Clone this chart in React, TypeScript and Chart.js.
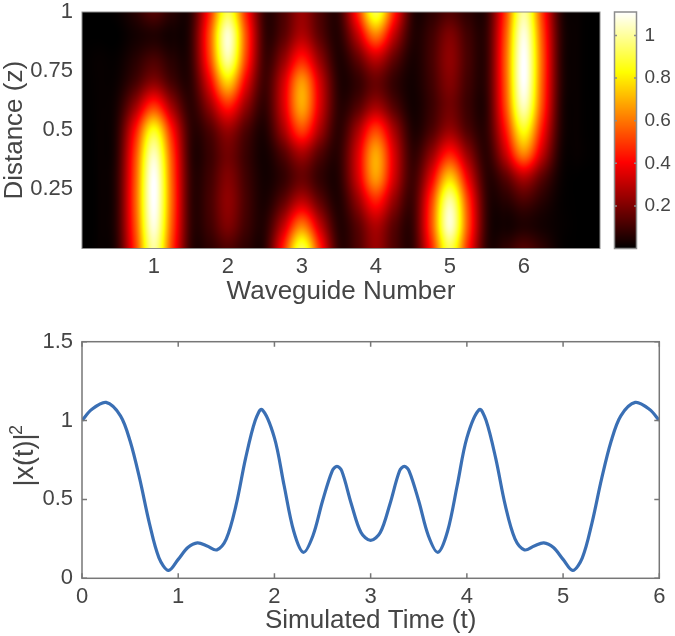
import React, { useEffect, useRef } from "react";
import { Chart, registerables } from "chart.js";

Chart.register(...registerables);

const FONT = "'Liberation Sans', Arial, sans-serif";
const TEXT = "#454545";
const FRAME = "#777777";

// Upper panel: intensity read at waveguide positions (columns) and distances (rows)
const heatX = [0, 0.25, 0.5, 0.75, 1, 1.25, 1.5, 1.75, 2, 2.25, 2.5, 2.75, 3, 3.25, 3.5, 3.75, 4, 4.25, 4.5, 4.75, 5, 5.25, 5.5, 5.75, 6, 6.25, 6.5, 6.75, 7];
const heatZ = [0, 0.1, 0.2, 0.3, 0.4, 0.5, 0.6, 0.7, 0.8, 0.9, 1];
const row00 = [0, .01, .07, .5, 1.0, .5, .08, .07, .125, .07, .07, .46, .91, .46, .08, .12, .24, .12, .08, .46, .91, .46, .07, .07, .125, .07, .01, 0, 0];
const row10 = [0, .01, .08, .54, 1.075, .54, .09, .10, .2, .10, .06, .3, .6, .3, .06, .14, .28, .14, .09, .53, 1.06, .53, .08, .03, .05, .03, .01, 0, 0];
const row20 = [0, .01, .08, .56, 1.11, .56, .09, .11, .225, .11, .04, .15, .3, .15, .05, .23, .45, .23, .1, .5, 1.0, .5, .08, .06, .115, .06, .01, 0, 0];
const row30 = [0, .01, .08, .55, 1.105, .55, .09, .10, .205, .10, .03, .08, .165, .08, .06, .33, .66, .33, .1, .37, .745, .37, .07, .14, .28, .14, .02, 0, 0];
const row40 = [0, .01, .07, .52, 1.03, .52, .08, .09, .18, .09, .03, .13, .26, .13, .07, .34, .68, .34, .08, .23, .45, .23, .07, .31, .62, .31, .04, .01, 0];
const row50 = [0, .01, .06, .43, .85, .43, .08, .12, .24, .12, .05, .26, .51, .26, .07, .26, .51, .26, .05, .12, .24, .12, .08, .43, .85, .43, .06, .01, 0];
const row60 = [0, .01, .04, .25, .5, .25, .07, .23, .45, .23, .08, .34, .68, .34, .07, .13, .26, .13, .03, .09, .18, .09, .08, .52, 1.03, .52, .07, .01, 0];
const row70 = [0, .01, .02, .11, .22, .11, .07, .37, .745, .37, .1, .33, .66, .33, .06, .08, .165, .08, .03, .10, .205, .10, .09, .55, 1.105, .55, .08, .01, 0];
const row80 = [0, .01, .01, .06, .115, .06, .08, .5, 1.0, .5, .1, .23, .45, .23, .05, .15, .3, .15, .04, .11, .225, .11, .09, .56, 1.11, .56, .08, .01, 0];
const row90 = [0, 0, 0, .03, .05, .03, .08, .53, 1.06, .53, .09, .14, .28, .14, .06, .3, .6, .3, .06, .10, .2, .10, .09, .54, 1.075, .54, .08, .01, 0];
const row100 = [0, 0, .01, .06, .125, .06, .07, .46, .91, .46, .08, .12, .24, .12, .08, .46, .91, .46, .07, .07, .125, .07, .08, .5, 1.0, .5, .07, .01, 0];
const heatRows = [row00, row10, row20, row30, row40, row50, row60, row70, row80, row90, row100];

const waveguideTicks = [1, 2, 3, 4, 5, 6];
const distanceTicks = [0.25, 0.5, 0.75, 1];
const colorbarTicks = [0.2, 0.4, 0.6, 0.8, 1];
const colorMax = 1.11;

// Lower panel
const timeValues = [0, .1, .25, .4, .5, .6, .7, .8, .9, 1.0, 1.1, 1.2, 1.3, 1.4, 1.5, 1.6, 1.7, 1.8, 1.87, 2.0, 2.1, 2.2, 2.3, 2.4, 2.5, 2.6, 2.65, 2.7, 2.8, 2.9, 3.0, 3.1, 3.2, 3.3, 3.35, 3.4, 3.5, 3.6, 3.7, 3.8, 3.9, 4.0, 4.13, 4.2, 4.3, 4.4, 4.5, 4.6, 4.7, 4.8, 4.9, 5.0, 5.1, 5.2, 5.3, 5.4, 5.5, 5.6, 5.75, 5.9, 6];
const intensityValues = [1.0, 1.07, 1.115, 1.03, .87, .63, .35, .13, .05, .12, .195, .225, .205, .18, .25, .46, .76, 1.0, 1.07, .89, .59, .30, .165, .27, .49, .68, .71, .68, .47, .29, .24, .29, .47, .68, .71, .68, .49, .27, .165, .30, .59, .89, 1.07, 1.0, .76, .46, .25, .18, .205, .225, .195, .12, .05, .13, .35, .63, .87, 1.03, 1.115, 1.07, 1.0];
const timeTicks = [0, 1, 2, 3, 4, 5, 6];
const intensityTicks = [0, 0.5, 1, 1.5];

const clamp01 = (v: number) => Math.max(0, Math.min(1, v));
function hot(v: number): [number, number, number] {
  const t = clamp01(v / colorMax);
  return [
    255 * clamp01(t / 0.365),
    255 * clamp01((t - 0.365) / 0.381),
    255 * clamp01((t - 0.746) / 0.254),
  ];
}

function catmull(a: number, b: number, c: number, d: number, t: number) {
  return 0.5 * (2 * b + (c - a) * t + (2 * a - 5 * b + 4 * c - d) * t * t + (3 * b - a - 3 * c + d) * t * t * t);
}

function sample(xv: number, zv: number) {
  const cx = Math.max(0, Math.min(heatX.length - 1.001, xv / (heatX[1] - heatX[0])));
  const cz = Math.max(0, Math.min(heatZ.length - 1.001, zv / (heatZ[1] - heatZ[0])));
  const ix = Math.floor(cx);
  const iz = Math.floor(cz);
  const col = (i: number) => Math.max(0, Math.min(heatX.length - 1, i));
  const rowAt = (i: number) => heatRows[Math.max(0, Math.min(heatZ.length - 1, i))];
  const vals = [-1, 0, 1, 2].map((dz) => {
    const r = rowAt(iz + dz);
    return catmull(r[col(ix - 1)], r[col(ix)], r[col(ix + 1)], r[col(ix + 2)], cx - ix);
  });
  return catmull(vals[0], vals[1], vals[2], vals[3], cz - iz);
}

const heatPlugin = {
  id: "heat",
  beforeDatasetsDraw(chart: any) {
    const { ctx, chartArea: a, scales } = chart;
    const l = Math.round(a.left), t = Math.round(a.top);
    const w = Math.round(a.right) - l, h = Math.round(a.bottom) - t;
    const off = document.createElement("canvas");
    off.width = w;
    off.height = h;
    const oc = off.getContext("2d")!;
    const img = oc.createImageData(w, h);
    for (let py = 0; py < h; py++) {
      const zv = scales.y.getValueForPixel(t + py + 0.5);
      for (let px = 0; px < w; px++) {
        const xv = scales.x.getValueForPixel(l + px + 0.5);
        const [r, g, b] = hot(sample(xv, zv));
        const k = (py * w + px) * 4;
        img.data[k] = r;
        img.data[k + 1] = g;
        img.data[k + 2] = b;
        img.data[k + 3] = 255;
      }
    }
    oc.putImageData(img, 0, 0);
    ctx.drawImage(off, l, t);
  },
};

const colorbarPlugin = {
  id: "colorbar",
  beforeDatasetsDraw(chart: any) {
    const { ctx, chartArea: a, scales } = chart;
    const top = Math.round(a.top), bottom = Math.round(a.bottom);
    for (let py = top; py < bottom; py++) {
      const [r, g, b] = hot(scales.y.getValueForPixel(py + 0.5));
      ctx.fillStyle = `rgb(${r},${g},${b})`;
      ctx.fillRect(a.left, py, a.right - a.left, 1);
    }
  },
};

function framePlugin(tickLen: number, color: string, lineWidth: number) {
  return {
    id: "frame",
    afterDatasetsDraw(chart: any) {
      const { ctx, chartArea: a, scales } = chart;
      ctx.save();
      ctx.strokeStyle = color;
      ctx.lineWidth = lineWidth;
      ctx.strokeRect(a.left, a.top, a.right - a.left, a.bottom - a.top);
      if (tickLen > 0) {
        ctx.beginPath();
        if (scales.x && scales.x.options.display !== false) {
          scales.x.ticks.forEach((tk: any) => {
            const p = scales.x.getPixelForValue(tk.value);
            ctx.moveTo(p, a.bottom);
            ctx.lineTo(p, a.bottom - tickLen);
            ctx.moveTo(p, a.top);
            ctx.lineTo(p, a.top + tickLen);
          });
        }
        scales.y.ticks.forEach((tk: any) => {
          const p = scales.y.getPixelForValue(tk.value);
          ctx.moveTo(a.left, p);
          ctx.lineTo(a.left + tickLen, p);
          ctx.moveTo(a.right, p);
          ctx.lineTo(a.right - tickLen, p);
        });
        ctx.stroke();
      }
      ctx.restore();
    },
  };
}

// The raised "2" of the lower panel's axis title, larger than the unicode superscript
const exponentPlugin = {
  id: "exponent",
  afterDraw(chart: any) {
    const { ctx } = chart;
    ctx.save();
    ctx.translate(17, 120);
    ctx.rotate(-Math.PI / 2);
    ctx.fillStyle = TEXT;
    ctx.font = `18px ${FONT}`;
    ctx.textAlign = "center";
    ctx.textBaseline = "middle";
    ctx.fillText("2", 0, 0);
    ctx.restore();
  },
};

function axis(over: any, ticks: number[], size: number, fit: any, title?: string, titlePad?: any, tickPad = 8, titleSize = 26) {
  return {
    type: "linear",
    grid: { display: false },
    border: { display: false },
    afterBuildTicks: (s: any) => { s.ticks = ticks.map((value) => ({ value })); },
    afterFit: fit,
    ticks: {
      autoSkip: false,
      maxRotation: 0,
      padding: tickPad,
      color: TEXT,
      font: { family: FONT, size },
      callback: (v: any) => String(v),
    },
    title: title
      ? { display: true, text: title, color: TEXT, padding: titlePad, font: { family: FONT, size: titleSize, lineHeight: 1 } }
      : { display: false },
    ...over,
  };
}

const baseOptions = {
  responsive: false,
  animation: false,
  events: [],
  plugins: { legend: { display: false }, tooltip: { enabled: false }, title: { display: false } },
};

export default function App() {
  const heatRef = useRef<HTMLCanvasElement>(null);
  const barRef = useRef<HTMLCanvasElement>(null);
  const lineRef = useRef<HTMLCanvasElement>(null);

  useEffect(() => {
    const heat = new Chart(heatRef.current!, {
      type: "scatter",
      data: {
        datasets: [{
          label: "Intensity",
          pointRadius: 0,
          data: heatRows.flatMap((r, j) => r.map((v, i) => ({ x: heatX[i], y: heatZ[j], v }))),
        }],
      },
      plugins: [heatPlugin, framePlugin(0, "#8c8c8c", 1)],
      options: {
        ...baseOptions,
        layout: { autoPadding: false, padding: { top: 32, left: 0, right: 8, bottom: 0 } },
        scales: {
          x: axis({ min: 0.03, max: 7.03 }, waveguideTicks, 22, (s: any) => { s.height = 61.5; }, "Waveguide Number", { top: 0, bottom: 5 }, -3),
          y: axis({ min: 0, max: 1 }, distanceTicks, 22, (s: any) => { s.width = 82; }, "Distance (z)", { top: 2, bottom: 0 }, 1),
        },
      } as any,
    } as any);

    const bar = new Chart(barRef.current!, {
      type: "scatter",
      data: { datasets: [{ label: "Scale", pointRadius: 0, data: [{ x: 0, y: 0 }, { x: 1, y: colorMax }] }] },
      plugins: [colorbarPlugin, framePlugin(2.5, "#8c8c8c", 1.5)],
      options: {
        ...baseOptions,
        layout: { autoPadding: false, padding: { top: 32, left: 6.5, right: 0, bottom: 61.5 } },
        scales: {
          x: { type: "linear", display: false, min: 0, max: 1 },
          y: axis({ min: 0, max: colorMax, position: "right" }, colorbarTicks, 19, (s: any) => { s.width = 38.5; }, undefined, undefined, 0),
        },
      } as any,
    } as any);

    const line = new Chart(lineRef.current!, {
      type: "scatter",
      data: {
        datasets: [{
          label: "|x(t)|2",
          showLine: true,
          pointRadius: 0,
          borderColor: "#3a6fb4",
          borderWidth: 3.2,
          tension: 0.33,
          data: timeValues.map((x, i) => ({ x, y: intensityValues[i] })),
        }],
      },
      plugins: [framePlugin(5, FRAME, 1.5), exponentPlugin],
      options: {
        ...baseOptions,
        layout: { autoPadding: false, padding: { top: 31.7, left: 0, right: 15.7, bottom: 0 } },
        scales: {
          x: axis({ min: 0, max: 6 }, timeTicks, 22, (s: any) => { s.height = 57.7; }, "Simulated Time (t)", { top: 0, bottom: 2 }, -3),
          y: axis({ min: 0, max: 1.5 }, intensityTicks, 22, (s: any) => { s.width = 82; }, "|x(t)|", { top: 12, bottom: 0 }, 1, 27),
        },
      } as any,
    } as any);

    return () => {
      heat.destroy();
      bar.destroy();
      line.destroy();
    };
  }, []);

  const abs = (left: number, top: number): React.CSSProperties => ({ position: "absolute", left, top, display: "block" });
  return (
    <div style={{ position: "absolute", left: 0, top: 0, width: 675, height: 636, background: "#fff", overflow: "hidden" }}>
      <canvas ref={heatRef} width={608} height={330} style={abs(0, -20)} />
      <canvas ref={barRef} width={67} height={330} style={abs(608, -20)} />
      <canvas ref={lineRef} width={675} height={326} style={abs(0, 310)} />
    </div>
  );
}
